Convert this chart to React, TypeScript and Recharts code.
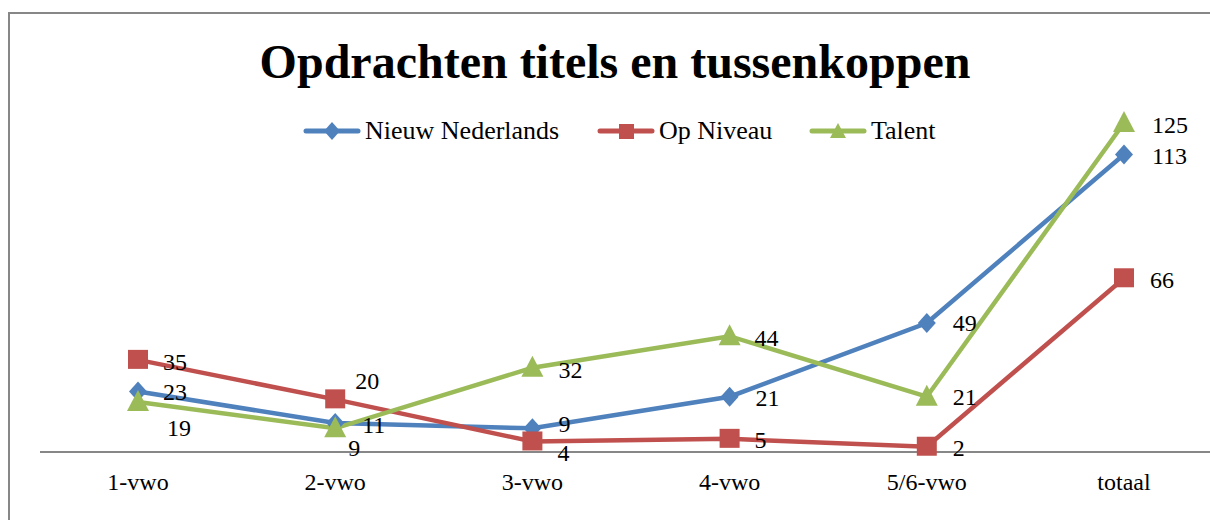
import React from "react";
import { LineChart, Line, XAxis, YAxis, LabelList } from "recharts";

const categories = ["1-vwo", "2-vwo", "3-vwo", "4-vwo", "5/6-vwo", "totaal"];
const nieuwNederlands = [23, 11, 9, 21, 49, 113];
const opNiveau = [35, 20, 4, 5, 2, 66];
const talent = [19, 9, 32, 44, 21, 125];
const seriesNames = ["Nieuw Nederlands", "Op Niveau", "Talent"];
const titleText = "Opdrachten titels en tussenkoppen";

const data = categories.map((c, i) => ({
  cat: c,
  nn: nieuwNederlands[i],
  on: opNiveau[i],
  t: talent[i],
}));

const FONT = "Liberation Serif, Times New Roman, serif";
const BLUE = "#4F81BD";
const RED = "#C0504D";
const GREEN = "#9BBB59";

// label placement offsets (dx from point to text start, dy from point to text centre)
const nnOff = [[25, 1], [27, 2], [26, -4], [26, 1], [26, 0], [28, 1]];
const onOff = [[25, 2], [20, -18], [25, 12], [25, 1], [26, 1], [26, 2]];
const tOff = [[29, 26], [13, 20], [26, 2], [25, 2], [26, 0], [28, 2]];

const makeLabel = (offs: number[][]) => (props: any) => {
  const { x, y, value, index } = props;
  const o = offs[index] || [26, 0];
  return (
    <text
      x={x + o[0]}
      y={y + o[1] + 8}
      textAnchor="start"
      fontFamily={FONT}
      fontSize={24}
      fill="#000"
    >
      {value}
    </text>
  );
};

const Diamond = (props: any) => {
  const { cx, cy } = props;
  if (cx == null || cy == null) return null;
  return (
    <path
      d={`M${cx},${cy - 10} L${cx + 9},${cy} L${cx},${cy + 10} L${cx - 9},${cy} Z`}
      fill={BLUE}
    />
  );
};
const Square = (props: any) => {
  const { cx, cy } = props;
  if (cx == null || cy == null) return null;
  return <rect x={cx - 10} y={cy - 10} width={20} height={19} fill={RED} />;
};
const Triangle = (props: any) => {
  const { cx, cy } = props;
  if (cx == null || cy == null) return null;
  return (
    <path
      d={`M${cx},${cy - 12} L${cx + 11},${cy + 9} L${cx - 11},${cy + 9} Z`}
      fill={GREEN}
    />
  );
};

const CatTick = (props: any) => {
  const { x, y, payload } = props;
  return (
    <text x={x} y={y + 38} textAnchor="middle" fontFamily={FONT} fontSize={24} fill="#000">
      {payload.value}
    </text>
  );
};

const LegendItem = ({ color, kind, label, left }: { color: string; kind: string; label: string; left: number }) => (
  <div style={{ position: "absolute", left, top: 119, display: "flex", alignItems: "center", whiteSpace: "nowrap" }}>
    <svg width={58} height={24} style={{ display: "block" }}>
      <line x1={3} y1={12} x2={55} y2={12} stroke={color} strokeWidth={5} strokeLinecap="round" />
      {kind === "diamond" && <path d="M29,3 L37,12 L29,21 L21,12 Z" fill={color} />}
      {kind === "square" && <rect x={22} y={5} width={15} height={15} fill={color} />}
      {kind === "triangle" && <path d="M29,4 L37,19 L21,19 Z" fill={color} />}
    </svg>
    <span style={{ fontFamily: FONT, fontSize: 26, color: "#000", marginLeft: 4, lineHeight: "24px" }}>
      {label}
    </span>
  </div>
);

export default function App() {
  return (
    <div
      style={{
        position: "absolute",
        left: 0,
        top: 0,
        width: 1210,
        height: 520,
        overflow: "hidden",
        background: "#fff",
      }}
    >
      <div
        style={{
          position: "absolute",
          left: 8,
          top: 12,
          width: 1400,
          height: 700,
          border: "2px solid #878787",
          boxSizing: "border-box",
        }}
      />
      <div
        style={{
          position: "absolute",
          left: 0,
          top: 32,
          width: 1230,
          textAlign: "center",
          fontFamily: FONT,
          fontWeight: "bold",
          fontSize: 48,
          lineHeight: "60px",
          color: "#000",
        }}
      >
        {titleText}
      </div>
      <LegendItem color={BLUE} kind="diamond" label={seriesNames[0]} left={303} />
      <LegendItem color={RED} kind="square" label={seriesNames[1]} left={597} />
      <LegendItem color={GREEN} kind="triangle" label={seriesNames[2]} left={809} />
      <div style={{ position: "absolute", left: 0, top: 0 }}>
        <LineChart
          width={1210}
          height={520}
          data={data}
          margin={{ top: 83.5, right: 0, bottom: 30, left: 40 }}
        >
          <XAxis
            dataKey="cat"
            height={38}
            padding={{ left: 98, right: 86 }}
            axisLine={{ stroke: "#878787", strokeWidth: 2 }}
            tickLine={false}
            tickSize={0}
            tickMargin={0}
            tick={<CatTick />}
            interval={0}
          />
          <YAxis hide domain={[0, 140]} />
          <Line
            dataKey="nn"
            name={seriesNames[0]}
            stroke={BLUE}
            strokeWidth={4.5}
            dot={<Diamond />}
            activeDot={false}
            isAnimationActive={false}
          >
            <LabelList dataKey="nn" content={makeLabel(nnOff)} />
          </Line>
          <Line
            dataKey="on"
            name={seriesNames[1]}
            stroke={RED}
            strokeWidth={4.5}
            dot={<Square />}
            activeDot={false}
            isAnimationActive={false}
          >
            <LabelList dataKey="on" content={makeLabel(onOff)} />
          </Line>
          <Line
            dataKey="t"
            name={seriesNames[2]}
            stroke={GREEN}
            strokeWidth={4.5}
            dot={<Triangle />}
            activeDot={false}
            isAnimationActive={false}
          >
            <LabelList dataKey="t" content={makeLabel(tOff)} />
          </Line>
        </LineChart>
      </div>
    </div>
  );
}
